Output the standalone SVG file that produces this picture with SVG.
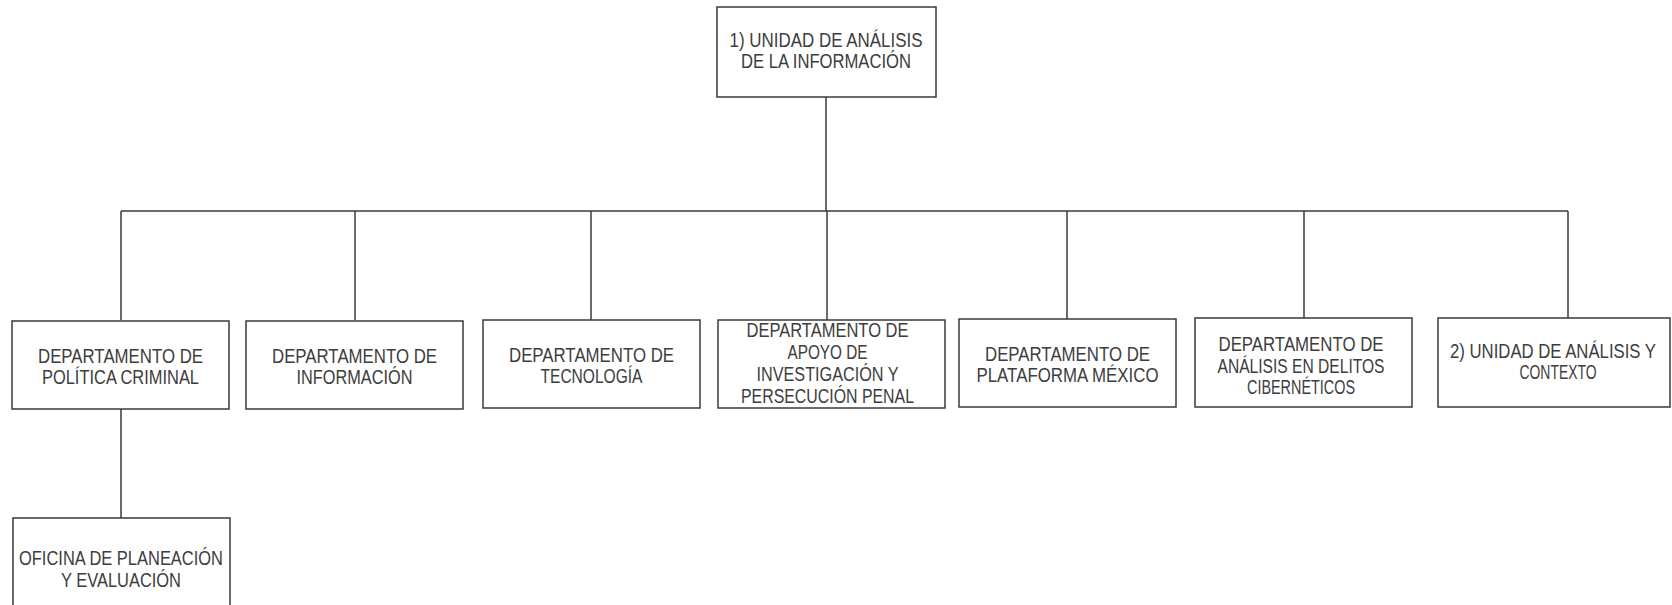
<svg xmlns="http://www.w3.org/2000/svg" width="1672" height="605" viewBox="0 0 1672 605">
<style>
.box{fill:#ffffff;stroke:#3a3a3a;stroke-width:1.5}
.lbl{font-family:"Liberation Sans",Arial,sans-serif;font-size:20.5px;fill:#3d3d3d;text-anchor:middle}
.con{fill:none;stroke:#3a3a3a;stroke-width:1.5}
</style>
<rect width="1672" height="605" fill="#ffffff"/>
<g id="connectors">
<line class="con" x1="826" y1="97" x2="826" y2="211"/>
<line class="con" x1="121" y1="211" x2="1568" y2="211"/>
<line class="con" x1="121" y1="211" x2="121" y2="320"/>
<line class="con" x1="355" y1="211" x2="355" y2="320"/>
<line class="con" x1="591" y1="211" x2="591" y2="320"/>
<line class="con" x1="827" y1="211" x2="827" y2="320"/>
<line class="con" x1="1067" y1="211" x2="1067" y2="320"/>
<line class="con" x1="1304" y1="211" x2="1304" y2="319"/>
<line class="con" x1="1568" y1="211" x2="1568" y2="319"/>
<line class="con" x1="121" y1="409" x2="121" y2="518"/>
</g>
<g id="n_root">
<rect class="box" x="717" y="7" width="219" height="90"/>
<text class="lbl" x="826" y="47" textLength="193" lengthAdjust="spacingAndGlyphs">1) UNIDAD DE ANÁLISIS</text>
<text class="lbl" x="826" y="68" textLength="170" lengthAdjust="spacingAndGlyphs">DE LA INFORMACIÓN</text>
</g>
<g id="n_politica">
<rect class="box" x="12" y="321" width="217" height="88"/>
<text class="lbl" x="120.5" y="363" textLength="165" lengthAdjust="spacingAndGlyphs">DEPARTAMENTO DE</text>
<text class="lbl" x="120.5" y="384" textLength="157" lengthAdjust="spacingAndGlyphs">POLÍTICA CRIMINAL</text>
</g>
<g id="n_informacion">
<rect class="box" x="246" y="321" width="217" height="88"/>
<text class="lbl" x="354.5" y="363" textLength="165" lengthAdjust="spacingAndGlyphs">DEPARTAMENTO DE</text>
<text class="lbl" x="354.5" y="384" textLength="116" lengthAdjust="spacingAndGlyphs">INFORMACIÓN</text>
</g>
<g id="n_tecnologia">
<rect class="box" x="483" y="320" width="217" height="88"/>
<text class="lbl" x="591.5" y="362" textLength="165" lengthAdjust="spacingAndGlyphs">DEPARTAMENTO DE</text>
<text class="lbl" x="591.5" y="383" textLength="102" lengthAdjust="spacingAndGlyphs">TECNOLOGÍA</text>
</g>
<g id="n_apoyo">
<rect class="box" x="718" y="320" width="227" height="88"/>
<text class="lbl" x="827.5" y="337" textLength="162" lengthAdjust="spacingAndGlyphs">DEPARTAMENTO DE</text>
<text class="lbl" x="827.5" y="359" textLength="80" lengthAdjust="spacingAndGlyphs">APOYO DE</text>
<text class="lbl" x="827.5" y="381" textLength="142" lengthAdjust="spacingAndGlyphs">INVESTIGACIÓN Y</text>
<text class="lbl" x="827.5" y="403" textLength="173" lengthAdjust="spacingAndGlyphs">PERSECUCIÓN PENAL</text>
</g>
<g id="n_plataforma">
<rect class="box" x="959" y="319" width="217" height="88"/>
<text class="lbl" x="1067.5" y="361" textLength="165" lengthAdjust="spacingAndGlyphs">DEPARTAMENTO DE</text>
<text class="lbl" x="1067.5" y="382" textLength="182" lengthAdjust="spacingAndGlyphs">PLATAFORMA MÉXICO</text>
</g>
<g id="n_ciber">
<rect class="box" x="1195" y="318" width="217" height="89"/>
<text class="lbl" x="1301" y="351" textLength="165" lengthAdjust="spacingAndGlyphs">DEPARTAMENTO DE</text>
<text class="lbl" x="1301" y="373" textLength="167" lengthAdjust="spacingAndGlyphs">ANÁLISIS EN DELITOS</text>
<text class="lbl" x="1301" y="394" textLength="108" lengthAdjust="spacingAndGlyphs">CIBERNÉTICOS</text>
</g>
<g id="n_contexto">
<rect class="box" x="1438" y="318" width="232" height="89"/>
<text class="lbl" transform="translate(1553,358) scale(1,1.17)" x="0" y="0" style="font-size:17.5px" textLength="206" lengthAdjust="spacingAndGlyphs">2) UNIDAD DE ANÁLISIS Y</text>
<text class="lbl" x="1558" y="379" textLength="77" lengthAdjust="spacingAndGlyphs">CONTEXTO</text>
</g>
<g id="n_oficina">
<rect class="box" x="13" y="518" width="217" height="100"/>
<text class="lbl" x="121" y="565" textLength="204" lengthAdjust="spacingAndGlyphs">OFICINA DE PLANEACIÓN</text>
<text class="lbl" x="121" y="587" textLength="120" lengthAdjust="spacingAndGlyphs">Y EVALUACIÓN</text>
</g>
</svg>
